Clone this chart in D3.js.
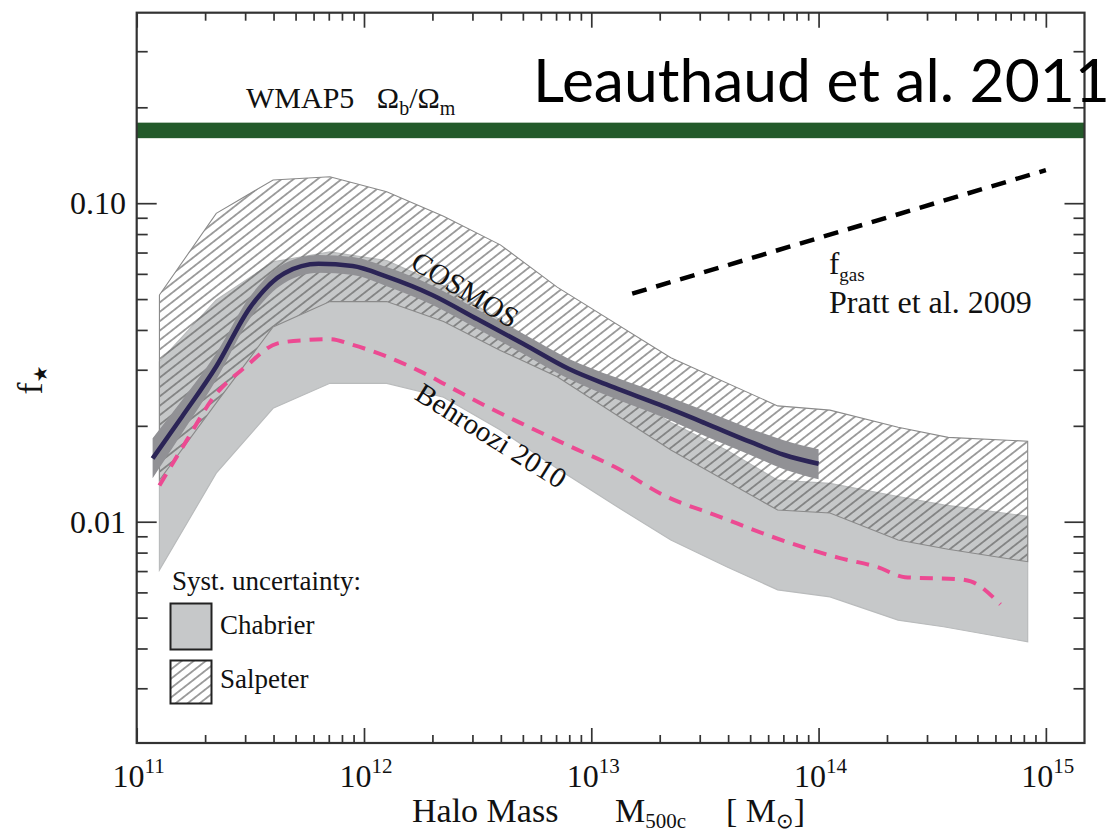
<!DOCTYPE html>
<meta charset="utf-8">
<style>
	body {
		margin: 0;
		background: #fff;
	}

	svg {
		display: block;
	}

	.serif {
		font-family: "Liberation Serif", "DejaVu Serif", serif;
		fill: #111;
	}

	.tick line {
		stroke: #333;
		stroke-width: 1.7px;
	}

	.domain {
		display: none;
	}
</style>
<body>
	<svg id="chart" width="1113" height="835"></svg>
</body>
<script src="https://cdn.jsdelivr.net/npm/d3@7/dist/d3.min.js"></script>
<script>
	// halo masses are log10(M500c / Msun), fractions are f_star
	var cosmosMass = [11.07, 11.2, 11.35, 11.5, 11.65, 11.8, 11.95, 12.1, 12.3, 12.5, 12.7, 12.9, 13.1, 13.3, 13.5, 13.7, 13.85, 14.0];
	var cosmosF = [0.0158, 0.0214, 0.0307, 0.0472, 0.0603, 0.0645, 0.0635, 0.0588, 0.0515, 0.0432, 0.0362, 0.0302, 0.0264, 0.0233, 0.0204, 0.0178, 0.0162, 0.0152];
	var cosmosHi = [0.0183, 0.0241, 0.0338, 0.0511, 0.0647, 0.0688, 0.0678, 0.0630, 0.0552, 0.0463, 0.0389, 0.0325, 0.0285, 0.0253, 0.0223, 0.0196, 0.0180, 0.0169];
	var cosmosLo = [0.0137, 0.0190, 0.0279, 0.0436, 0.0562, 0.0605, 0.0595, 0.0549, 0.0480, 0.0403, 0.0337, 0.0281, 0.0244, 0.0215, 0.0186, 0.0162, 0.0146, 0.0136];

	var chabMass = [11.1, 11.35, 11.6, 11.85, 12.1, 12.35, 12.6, 12.85, 13.1, 13.35, 13.6, 13.82, 14.05, 14.35, 14.55, 14.92];
	var chabHi = [0.0318, 0.0497, 0.0654, 0.0703, 0.066, 0.055, 0.043, 0.033, 0.026, 0.0205, 0.0167, 0.0135, 0.0132, 0.0120, 0.0113, 0.0104];
	var chabLo = [0.00705, 0.0142, 0.0227, 0.0272, 0.0272, 0.0246, 0.0194, 0.0147, 0.0113, 0.00876, 0.0072, 0.00611, 0.00581, 0.00491, 0.00468, 0.0042];

	var salpMass = [11.1, 11.35, 11.6, 11.85, 12.1, 12.35, 12.6, 12.85, 13.35, 13.82, 14.05, 14.35, 14.57, 14.92];
	var salpHi = [0.0515, 0.0929, 0.1183, 0.1211, 0.1087, 0.091, 0.074, 0.0545, 0.0327, 0.0231, 0.0224, 0.0198, 0.0184, 0.0179];
	var salpLo = [0.01352, 0.0236, 0.0409, 0.0491, 0.0491, 0.0425, 0.0345, 0.0285, 0.0168, 0.01088, 0.01065, 0.00876, 0.0082, 0.00749];

	var behrMass = [11.1, 11.22, 11.34, 11.48, 11.62, 11.75, 11.85, 11.95, 12.1, 12.25, 12.39, 12.54, 12.69, 12.91, 13.1, 13.33, 13.56, 13.79, 14.09, 14.26, 14.38, 14.62, 14.67, 14.8];
	var behrF = [0.0130, 0.0180, 0.0247, 0.0307, 0.0363, 0.0372, 0.0374, 0.0359, 0.0330, 0.0296, 0.0262, 0.0230, 0.0204, 0.0172, 0.0149, 0.0120, 0.0104, 0.0090, 0.0077, 0.0072, 0.0067, 0.0066, 0.0065, 0.0055];

	var fgasMass = [13.18, 15.0];
	var fgasF = [0.052, 0.127];

	var wmapBand = [0.160, 0.179]; // Omega_b / Omega_m

	var xMajor = [11, 12, 13, 14, 15];
	var yMajor = [0.01, 0.1];
	var yMajorLabels = ["0.01", "0.10"];

	var width = 1113,
		height = 835;
	var L = 136.7, R = 1084.5, T = 12.7, B = 743;

	var x = d3.scaleLog().domain([1e11, 1.479e15]).range([L, R]);
	var y = d3.scaleLog().domain([0.00202, 0.3963]).range([B, T]);
	var mx = function(m) { return x(Math.pow(10, m)); };

	var svg = d3.select("#chart");
	svg.append("rect").attr("width", width).attr("height", height).attr("fill", "#fff");

	var defs = svg.append("defs");
	var hatch = defs.append("pattern")
		.attr("id", "hatch")
		.attr("patternUnits", "userSpaceOnUse")
		.attr("width", 10)
		.attr("height", 7.4)
		.attr("patternTransform", "rotate(-38)");
	hatch.append("line")
		.attr("x1", 0).attr("x2", 10)
		.attr("y1", 3.7).attr("y2", 3.7)
		.attr("stroke", "#555")
		.attr("stroke-width", 1.1);

	defs.append("clipPath").attr("id", "plotclip")
		.append("rect").attr("x", L).attr("y", T).attr("width", R - L).attr("height", B - T);

	var plot = svg.append("g").attr("clip-path", "url(#plotclip)");

	// WMAP5 baryon fraction
	plot.append("rect")
		.attr("x", L).attr("width", R - L)
		.attr("y", y(wmapBand[1]))
		.attr("height", y(wmapBand[0]) - y(wmapBand[1]))
		.attr("fill", "#235a2a");

	var band = d3.area()
		.x(function(d) { return mx(d[0]); })
		.y0(function(d) { return y(d[1]); })
		.y1(function(d) { return y(d[2]); });

	// Chabrier systematic band
	plot.append("path")
		.datum(d3.zip(chabMass, chabLo, chabHi))
		.attr("d", band)
		.attr("fill", "#c6c8c9")
		.attr("stroke", "#b9bbbc")
		.attr("stroke-width", 1.2);

	// Salpeter systematic band (hatched)
	plot.append("path")
		.datum(d3.zip(salpMass, salpLo, salpHi))
		.attr("d", band)
		.attr("fill", "url(#hatch)")
		.attr("stroke", "#8a8a8a")
		.attr("stroke-width", 1.1);

	// COSMOS error band and line
	plot.append("path")
		.datum(d3.zip(cosmosMass, cosmosLo, cosmosHi))
		.attr("d", band.curve(d3.curveMonotoneX))
		.attr("fill", "#919195");
	band.curve(d3.curveLinear);

	var line = d3.line()
		.x(function(d) { return mx(d[0]); })
		.y(function(d) { return y(d[1]); })
		.curve(d3.curveMonotoneX);

	plot.append("path")
		.datum(d3.zip(cosmosMass, cosmosF))
		.attr("d", line)
		.attr("fill", "none")
		.attr("stroke", "#2b2456")
		.attr("stroke-width", 4.5);

	plot.append("path")
		.datum(d3.zip(behrMass, behrF))
		.attr("d", line)
		.attr("fill", "none")
		.attr("stroke", "#ec4a92")
		.attr("stroke-width", 4)
		.attr("stroke-dasharray", "13,9");

	plot.append("path")
		.datum(d3.zip(fgasMass, fgasF))
		.attr("d", line)
		.attr("fill", "none")
		.attr("stroke", "#000")
		.attr("stroke-width", 4.5)
		.attr("stroke-dasharray", "15,10");

	// axes: ticks on all four sides, pointing inward
	var xMinor = [], yMinor = [];
	for (var d = 11; d <= 15; d++) {
		for (var k = 2; k <= 9; k++) {
			var v = k * Math.pow(10, d);
			if (v < x.domain()[1]) xMinor.push(v);
		}
	}
	[-3, -2, -1].forEach(function(d) {
		for (var k = 2; k <= 9; k++) {
			var v = k * Math.pow(10, d);
			if (v > y.domain()[0] && v < y.domain()[1]) yMinor.push(v);
		}
	});
	var xMaj = xMajor.map(function(m) { return Math.pow(10, m); });

	function addAxis(axis, tr, vals, size) {
		svg.append("g").attr("transform", tr)
			.call(axis.tickValues(vals).tickSize(-size).tickFormat(""));
	}
	addAxis(d3.axisBottom(x), "translate(0," + B + ")", xMaj, 15);
	addAxis(d3.axisBottom(x), "translate(0," + B + ")", xMinor, 8);
	addAxis(d3.axisTop(x), "translate(0," + T + ")", xMaj, 15);
	addAxis(d3.axisTop(x), "translate(0," + T + ")", xMinor, 8);
	addAxis(d3.axisLeft(y), "translate(" + L + ",0)", yMajor, 20);
	addAxis(d3.axisLeft(y), "translate(" + L + ",0)", yMinor, 11);
	addAxis(d3.axisRight(y), "translate(" + R + ",0)", yMajor, 20);
	addAxis(d3.axisRight(y), "translate(" + R + ",0)", yMinor, 11);

	svg.append("rect")
		.attr("x", L).attr("y", T)
		.attr("width", R - L).attr("height", B - T)
		.attr("fill", "none")
		.attr("stroke", "#333")
		.attr("stroke-width", 2.2);

	// tick labels
	var xl = svg.selectAll(".xlab").data(xMajor).enter().append("text")
		.attr("class", "serif")
		.attr("x", function(m) { return mx(m) + 2; })
		.attr("y", B + 44)
		.attr("text-anchor", "middle");
	xl.append("tspan").attr("font-size", 32).text("10");
	xl.append("tspan").attr("font-size", 21).attr("dy", -14).text(function(m) { return m; });

	svg.selectAll(".ylab").data(yMajor).enter().append("text")
		.attr("class", "serif")
		.attr("x", 126)
		.attr("y", function(v) { return y(v) + 11; })
		.attr("text-anchor", "end")
		.attr("font-size", 32)
		.text(function(v, i) { return yMajorLabels[i]; });

	// axis titles
	var xt = svg.append("g").attr("class", "serif");
	xt.append("text").attr("x", 412).attr("y", 822).attr("font-size", 34).text("Halo Mass");
	var m500 = xt.append("text").attr("x", 615).attr("y", 822).attr("font-size", 34);
	m500.append("tspan").text("M");
	m500.append("tspan").attr("font-size", 21).attr("dy", 6).text("500c");
	var msun = xt.append("text").attr("x", 726).attr("y", 822).attr("font-size", 34);
	msun.append("tspan").text("[\u00a0M");
	msun.append("tspan").attr("font-size", 21).attr("dy", 6).attr("font-family", "DejaVu Sans").text("\u2299");
	msun.append("tspan").attr("dy", -6).text("]");

	var yt = svg.append("text").attr("class", "serif")
		.attr("transform", "translate(42,380) rotate(-90)")
		.attr("text-anchor", "middle")
		.attr("font-size", 36);
	yt.append("tspan").text("f");
	yt.append("tspan").attr("font-size", 19).attr("dy", 5).attr("font-family", "DejaVu Sans").text("\u2605");

	// annotations
	var wm = svg.append("text").attr("class", "serif").attr("x", 246).attr("y", 108).attr("font-size", 30);
	wm.append("tspan").text("WMAP5\u00a0\u00a0\u00a0\u03a9");
	wm.append("tspan").attr("font-size", 20).attr("dy", 7).text("b");
	wm.append("tspan").attr("dy", -7).text("/\u03a9");
	wm.append("tspan").attr("font-size", 20).attr("dy", 7).text("m");

	svg.append("text").attr("class", "serif")
		.attr("transform", "translate(460,298) rotate(31)")
		.attr("text-anchor", "middle")
		.attr("font-size", 29)
		.text("COSMOS");

	svg.append("text").attr("class", "serif")
		.attr("transform", "translate(486,444) rotate(32)")
		.attr("text-anchor", "middle")
		.attr("font-size", 29)
		.text("Behroozi 2010");

	var fg = svg.append("text").attr("class", "serif").attr("x", 829).attr("y", 274).attr("font-size", 31);
	fg.append("tspan").text("f");
	fg.append("tspan").attr("font-size", 19).attr("dy", 7).text("gas");
	svg.append("text").attr("class", "serif").attr("x", 829).attr("y", 313).attr("font-size", 32).text("Pratt et al. 2009");

	// legend
	var lg = svg.append("g").attr("class", "serif");
	lg.append("text").attr("x", 172).attr("y", 590).attr("font-size", 27).text("Syst. uncertainty:");
	lg.append("rect").attr("x", 170.5).attr("y", 603.5).attr("width", 41).attr("height", 46)
		.attr("fill", "#c6c8c9").attr("stroke", "#222").attr("stroke-width", 2);
	lg.append("text").attr("x", 220).attr("y", 634).attr("font-size", 27).text("Chabrier");
	lg.append("rect").attr("x", 170.5).attr("y", 660.5).attr("width", 41).attr("height", 43)
		.attr("fill", "url(#hatch)").attr("stroke", "#222").attr("stroke-width", 2);
	lg.append("text").attr("x", 220).attr("y", 688).attr("font-size", 27).text("Salpeter");

	// slide title
	svg.append("text")
		.attr("x", 533).attr("y", 102)
		.attr("font-family", "Lato, 'Open Sans', sans-serif")
		.attr("font-size", 60)
		.attr("textLength", 577)
		.attr("lengthAdjust", "spacingAndGlyphs")
		.attr("fill", "#000")
		.text("Leauthaud et al. 2011");
</script>
